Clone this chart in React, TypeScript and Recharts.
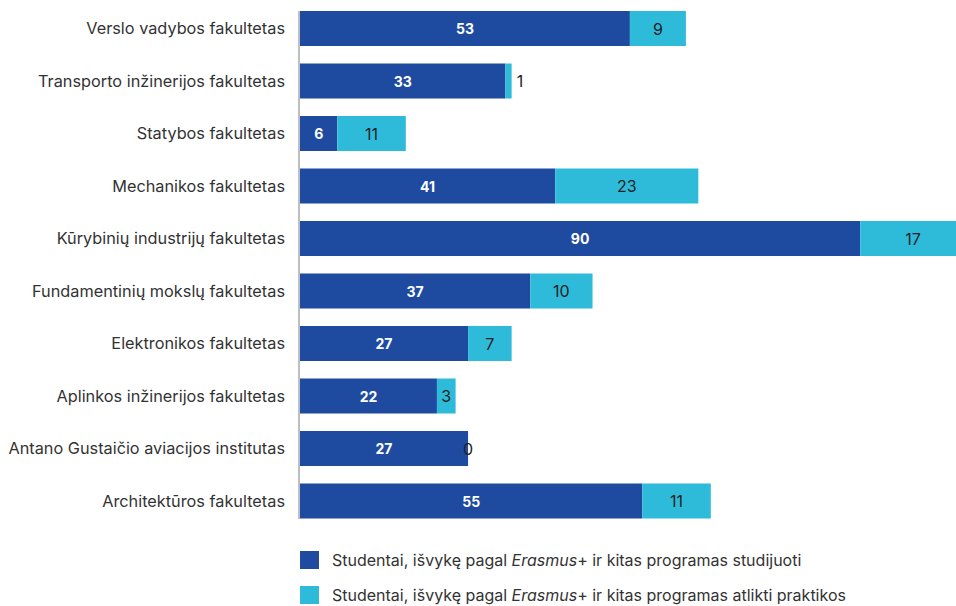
import React from 'react';
import { BarChart, Bar, XAxis, YAxis, LabelList, Legend, ReferenceLine } from 'recharts';

const categories = [
  'Verslo vadybos fakultetas',
  'Transporto inžinerijos fakultetas',
  'Statybos fakultetas',
  'Mechanikos fakultetas',
  'Kūrybinių industrijų fakultetas',
  'Fundamentinių mokslų fakultetas',
  'Elektronikos fakultetas',
  'Aplinkos inžinerijos fakultetas',
  'Antano Gustaičio aviacijos institutas',
  'Architektūros fakultetas',
];
const studies = [53, 33, 6, 41, 90, 37, 27, 22, 27, 55];
const practice = [9, 1, 11, 23, 17, 10, 7, 3, 0, 11];

const data = categories.map((name, i) => ({ name, studies: studies[i], practice: practice[i] }));

const DARK = '#1E4B9F';
const LIGHT = '#2EBBDA';
const FONT = 'Inter, "Noto Sans", sans-serif';

const StudiesLabel = (props: any) => {
  const { x, y, width, height, value } = props;
  return (
    <text x={x + width / 2} y={y + height / 2} textAnchor="middle" dominantBaseline="central"
      fill="#fff" fontSize={14} fontWeight={700} fontFamily={FONT}>{value}</text>
  );
};

const practiceText = (cx: number, cy: number, value: any) => (
  <text x={cx} y={cy} textAnchor="middle" dominantBaseline="central"
    fill="#222" fontSize={16} fontFamily={FONT}>{value}</text>
);

const PracticeLabel = (props: any) => {
  const { x, y, width, height, value } = props;
  if (!value) return null;
  const tw = String(value).length * 9;
  let cx = x + width / 2;
  if (width < tw) cx = x + width + 4 + tw / 2;
  return practiceText(cx, y + height / 2, value);
};

// label for a zero-valued practice segment, placed where the (empty) segment starts
const ZeroPracticeLabel = (props: any) => {
  const { x, y, width, height, value } = props;
  if (value !== 0) return null;
  return practiceText(x + width, y + height / 2, value);
};

const legendItems = [
  { color: DARK, pre: 'Studentai, išvykę pagal ', it: 'Erasmus', post: '+ ir kitas programas studijuoti' },
  { color: LIGHT, pre: 'Studentai, išvykę pagal ', it: 'Erasmus', post: '+ ir kitas programas atlikti praktikos' },
];

const LegendContent = () => (
  <div style={{ fontFamily: FONT, fontSize: 16, color: '#333' }}>
    {legendItems.map((l, i) => (
      <div key={i} style={{ display: 'flex', alignItems: 'center', height: 34.5 }}>
        <span style={{ display: 'inline-block', width: 19, height: 18, background: l.color, marginRight: 13, flex: 'none' }} />
        <span style={{ whiteSpace: 'nowrap' }}>{l.pre}<i>{l.it}</i>{l.post}</span>
      </div>
    ))}
  </div>
);

const AxisLine = (p: any) => {
  const top = Math.min(p.y1, p.y2) + 9;
  const bottom = Math.max(p.y1, p.y2) - 8;
  return <line x1={p.x1 - 1} x2={p.x2 - 1} y1={top} y2={bottom} stroke="#BDBDC4" strokeWidth={2} />;
};

export default function App() {
  return (
    <div style={{ position: 'absolute', left: 0, top: 0, width: 956, height: 606, overflow: 'hidden', background: '#fff' }}>
      <BarChart width={966} height={606} data={data} layout="vertical"
        margin={{ top: 2, right: 0, bottom: 79, left: 0 }} barSize={35}>
        <XAxis type="number" domain={[0, 107]} hide />
        <YAxis type="category" dataKey="name" width={300} tickLine={false} axisLine={false}
          tickSize={0} tickMargin={15} interval={0}
          tick={{ fontSize: 16.3, fill: '#333', fontFamily: FONT }} />
        <Bar dataKey="studies" stackId="a" fill={DARK} isAnimationActive={false}>
          <LabelList dataKey="studies" content={StudiesLabel} />
          <LabelList dataKey="practice" content={ZeroPracticeLabel} />
        </Bar>
        <Bar dataKey="practice" stackId="a" fill={LIGHT} isAnimationActive={false}>
          <LabelList dataKey="practice" content={PracticeLabel} />
        </Bar>
        <ReferenceLine x={0} shape={AxisLine} />
        <Legend layout="vertical" align="center" verticalAlign="middle" content={LegendContent}
          wrapperStyle={{ position: 'absolute', left: 300, top: 543, width: 640 }} />
      </BarChart>
    </div>
  );
}
